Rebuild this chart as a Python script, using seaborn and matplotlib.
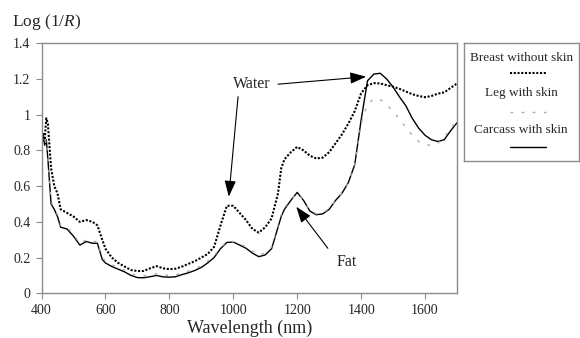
import pandas as pd
import matplotlib.pyplot as plt
import seaborn as sns
from matplotlib.lines import Line2D

# 波長 (nm)
wavelength = [400, 405, 410, 415, 420, 430, 440, 450, 460, 480, 500, 520, 540, 560, 575,
              590, 600, 620, 640, 660, 680, 700, 720, 740, 760, 780, 800, 820, 840, 860,
              880, 900, 920, 940, 960, 980, 1000, 1020, 1040, 1060, 1080, 1100, 1120, 1140,
              1150, 1160, 1180, 1200, 1220, 1240, 1260, 1280, 1300, 1320, 1340, 1360, 1380,
              1400, 1420, 1440, 1460, 1480, 1500, 1520, 1540, 1560, 1580, 1600, 1620, 1640,
              1660, 1680, 1700]

# Breast without skin (点線)
breast = [0.82, 0.90, 0.86, 0.98, 0.95, 0.70, 0.60, 0.56, 0.47, 0.45, 0.43, 0.40, 0.41, 0.40, 0.38,
          0.30, 0.25, 0.20, 0.17, 0.15, 0.13, 0.125, 0.125, 0.14, 0.152, 0.14, 0.135, 0.138, 0.15, 0.165,
          0.18, 0.20, 0.22, 0.26, 0.38, 0.49, 0.49, 0.45, 0.41, 0.36, 0.34, 0.37, 0.42, 0.56,
          0.70, 0.75, 0.79, 0.82, 0.80, 0.77, 0.755, 0.76, 0.79, 0.84, 0.89, 0.95, 1.02,
          1.12, 1.165, 1.177, 1.175, 1.165, 1.157, 1.145, 1.13, 1.115, 1.105, 1.098, 1.105, 1.118,
          1.125, 1.15, 1.175]

# Leg with skin (破線)
leg = [0.80, 0.87, 0.83, 0.86, 0.76, 0.51, 0.48, 0.44, 0.38, 0.37, 0.33, 0.28, 0.30, 0.29, 0.29,
       0.20, 0.18, 0.16, 0.145, 0.13, 0.11, 0.10, 0.098, 0.103, 0.11, 0.103, 0.10, 0.103, 0.115, 0.125,
       0.138, 0.155, 0.18, 0.21, 0.255, 0.29, 0.29, 0.277, 0.26, 0.235, 0.215, 0.225, 0.26, 0.38,
       0.44, 0.48, 0.52, 0.56, 0.52, 0.465, 0.445, 0.45, 0.475, 0.52, 0.56, 0.62, 0.72,
       0.95, 1.06, 1.09, 1.085, 1.055, 1.02, 0.975, 0.93, 0.885, 0.85, 0.83, 0.83, 0.84,
       0.87, 0.93, 0.955]

# Carcass with skin (実線)
carcass = [0.80, 0.885, 0.83, 0.86, 0.75, 0.50, 0.47, 0.43, 0.37, 0.36, 0.32, 0.27, 0.29, 0.28, 0.28,
           0.19, 0.17, 0.15, 0.135, 0.12, 0.10, 0.088, 0.087, 0.093, 0.10, 0.092, 0.09, 0.093, 0.105, 0.115,
           0.128, 0.145, 0.17, 0.20, 0.25, 0.285, 0.287, 0.27, 0.252, 0.225, 0.205, 0.215, 0.25, 0.37,
           0.43, 0.47, 0.52, 0.565, 0.52, 0.46, 0.44, 0.445, 0.47, 0.52, 0.56, 0.62, 0.72,
           0.97, 1.19, 1.228, 1.232, 1.20, 1.155, 1.10, 1.05, 0.98, 0.925, 0.885, 0.86, 0.85,
           0.86, 0.91, 0.955]

x_ticks = [400, 600, 800, 1000, 1200, 1400, 1600]
y_ticks = [0, 0.2, 0.4, 0.6, 0.8, 1, 1.2, 1.4]
y_tick_labels = ["0", "0.2", "0.4", "0.6", "0.8", "1", "1.2", "1.4"]
series_names = ["Breast without skin", "Leg with skin", "Carcass with skin"]

df = pd.DataFrame({
    "wavelength": wavelength,
    "breast": breast,
    "leg": leg,
    "carcass": carcass,
})

sns.set_style("ticks")
plt.rcParams["font.family"] = ["Liberation Serif", "DejaVu Serif"]
plt.rcParams["mathtext.fontset"] = "custom"
plt.rcParams["mathtext.rm"] = "Liberation Serif"
plt.rcParams["mathtext.it"] = "Liberation Serif:italic"

grey = "#8c8c8c"
styles = {
    "breast": dict(color="black", linewidth=1.5, linestyle=(0, (1, 0.8))),
    "leg": dict(color="#ababab", linewidth=1.0, linestyle=(0, (2, 6))),
    "carcass": dict(color="black", linewidth=1.0, linestyle="-"),
}

fig = plt.figure(figsize=(5.8, 3.38), dpi=100)
ax = fig.add_axes([41.5 / 580, 1 - 293.3 / 338, (457 - 41.5) / 580, (293.3 - 43.3) / 338])

for col in ["carcass", "leg", "breast"]:
    sns.lineplot(data=df, x="wavelength", y=col, ax=ax, **styles[col])

ax.set_xlim(400, 1700)
ax.set_ylim(0, 1.4)
ax.set_xticks(x_ticks)
ax.set_yticks(y_ticks)
ax.set_yticklabels(y_tick_labels)
ax.set_xlabel("Wavelength (nm)", fontsize=13, labelpad=1.5)
ax.set_ylabel("")
ax.tick_params(axis="both", direction="out", length=4, color=grey, labelsize=10, pad=4)
for s in ax.spines.values():
    s.set_color(grey)
    s.set_linewidth(1.0)

fig.text(12 / 580, 1 - 22 / 338, r"Log (1/$R$)", fontsize=12.5, va="center", ha="left")

# 注記
arrow = dict(arrowstyle="-|>,head_length=0.7,head_width=0.25", color="black", lw=0.8,
             mutation_scale=14, shrinkA=0, shrinkB=0)
ax.text(1057, 1.171, "Water", fontsize=11.5, ha="center", va="center")
ax.annotate("", xy=(986, 0.541), xytext=(1015, 1.101), arrowprops=arrow)
ax.annotate("", xy=(1416, 1.213), xytext=(1140, 1.171), arrowprops=arrow)
ax.text(1354, 0.177, "Fat", fontsize=11.5, ha="center", va="center")
ax.annotate("", xy=(1197, 0.485), xytext=(1296, 0.252), arrowprops=arrow)

# 凡例ボックス
lax = fig.add_axes([464 / 580, 1 - 161 / 338, (578.5 - 464) / 580, (161 - 43) / 338])
lax.set_xlim(0, 1)
lax.set_ylim(0, 1)
lax.set_xticks([])
lax.set_yticks([])
for s in lax.spines.values():
    s.set_color(grey)
    s.set_linewidth(1.0)
text_y = [0.870, 0.574, 0.263]
line_y = [0.743, 0.418, 0.121]
for name, key, ty, ly in zip(series_names, ["breast", "leg", "carcass"], text_y, line_y):
    lax.text(0.5, ty, name, fontsize=9.5, ha="center", va="center")
    lax.add_line(Line2D([0.40, 0.72], [ly, ly], **styles[key]))

plt.savefig("out.png", dpi=100)
